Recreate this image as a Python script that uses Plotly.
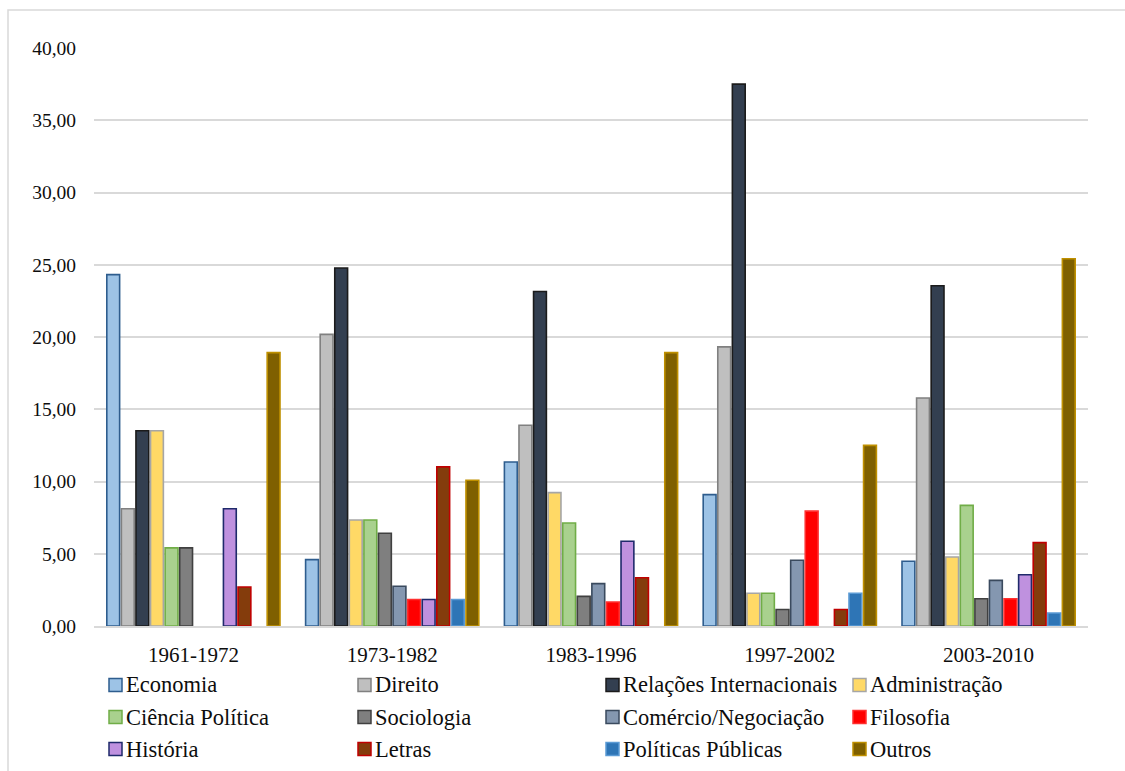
import plotly.graph_objects as go

# Periods (x categories)
periods = ["1961-1972", "1973-1982", "1983-1996", "1997-2002", "2003-2010"]

# Share of each field of study per period (%); None = no bar
economia = [24.32, 4.59, 11.35, 9.09, 4.48]
direito = [8.11, 20.18, 13.89, 19.32, 15.78]
relacoes_internacionais = [13.51, 24.77, 23.15, 37.50, 23.55]
administracao = [13.51, 7.34, 9.23, 2.27, 4.78]
ciencia_politica = [5.41, 7.34, 7.13, 2.27, 8.35]
sociologia = [5.41, 6.42, 2.05, 1.14, 1.89]
comercio_negociacao = [None, 2.75, 2.93, 4.55, 3.16]
filosofia = [None, 1.83, 1.66, 7.95, 1.89]
historia = [8.11, 1.83, 5.86, None, 3.55]
letras = [2.70, 11.01, 3.34, 1.14, 5.77]
politicas_publicas = [None, 1.83, None, 2.27, 0.90]
outros = [18.92, 10.09, 18.92, 12.50, 25.42]

y_ticks = [0, 5, 10, 15, 20, 25, 30, 35, 40]

series = [
    ("Economia", economia, "#9DC3E6", "#2E5D8E"),
    ("Direito", direito, "#BFBFBF", "#808080"),
    ("Relações Internacionais", relacoes_internacionais, "#333F50", "#1B1B1B"),
    ("Administração", administracao, "#FFD966", "#A6A6A6"),
    ("Ciência Política", ciencia_politica, "#A9D18E", "#70AD47"),
    ("Sociologia", sociologia, "#7F7F7F", "#404040"),
    ("Comércio/Negociação", comercio_negociacao, "#8497B0", "#3A4A5E"),
    ("Filosofia", filosofia, "#FF0000", "#FF3030"),
    ("História", historia, "#BF91DF", "#1F2A6B"),
    ("Letras", letras, "#843C0C", "#C00000"),
    ("Políticas Públicas", politicas_publicas, "#2E75B6", "#5B9BD5"),
    ("Outros", outros, "#7F6000", "#BF9000"),
]

W, H = 1125, 771
L, R, T, B = 94, 1088, 48, 626  # plot area in pixels
FONT = "Liberation Serif"

fig = go.Figure()
for name, vals, fill, edge in series:
    fig.add_trace(go.Bar(
        name=name, x=periods, y=vals,
        marker=dict(color=fill, line=dict(color=edge, width=1.6)),
        showlegend=False,
    ))


def px_x(px):
    return (px - L) / (R - L)


def px_y(py):
    return (B - py) / (B - T)


shapes = []
annotations = []

# Outer chart frame (runs past the right and bottom edges)
shapes.append(dict(type="rect", xref="paper", yref="paper",
                   x0=px_x(8), x1=px_x(1140), y0=px_y(10), y1=px_y(790),
                   line=dict(color="#D9D9D9", width=1.5), fillcolor="rgba(0,0,0,0)",
                   layer="below"))

# Legend: 4 columns x 3 rows
col_x = [109, 358, 606, 853]
row_y = [685, 717, 749]
sw = 13
for i, (name, vals, fill, edge) in enumerate(series):
    r, c = divmod(i, 4)
    x0 = col_x[c]
    yc = row_y[r]
    shapes.append(dict(type="rect", xref="paper", yref="paper",
                       x0=px_x(x0), x1=px_x(x0 + sw),
                       y0=px_y(yc + sw / 2), y1=px_y(yc - sw / 2),
                       fillcolor=fill, line=dict(color=edge, width=1.5)))
    annotations.append(dict(xref="paper", yref="paper", x=px_x(x0 + sw + 2), y=px_y(yc),
                            xanchor="left", yanchor="middle", text=name, showarrow=False,
                            font=dict(family=FONT, size=22.5, color="#0D0D0D")))

fig.update_layout(
    width=W, height=H,
    margin=dict(l=L, r=W - R, t=T, b=H - B, pad=0),
    paper_bgcolor="white", plot_bgcolor="white",
    barmode="group", bargap=0.12, bargroupgap=0.12,
    separators=",.",
    shapes=shapes, annotations=annotations,
    showlegend=False,
    font=dict(family=FONT, color="#0D0D0D"),
)

fig.update_xaxes(
    type="category", range=[-0.5, 4.5],
    showgrid=False, showline=True, linecolor="#D9D9D9", linewidth=1.5,
    ticks="outside", ticklen=9, tickcolor="rgba(0,0,0,0)",
    tickfont=dict(family=FONT, size=21, color="#0D0D0D"),
)
fig.update_yaxes(
    range=[0, 40], tickvals=y_ticks, tickformat=".2f",
    showgrid=True, gridcolor="#D9D9D9", gridwidth=1.5, zeroline=False,
    showline=False,
    ticks="outside", ticklen=13, tickcolor="rgba(0,0,0,0)",
    tickfont=dict(family=FONT, size=19.5, color="#0D0D0D"),
)

fig.write_html("out.html")
